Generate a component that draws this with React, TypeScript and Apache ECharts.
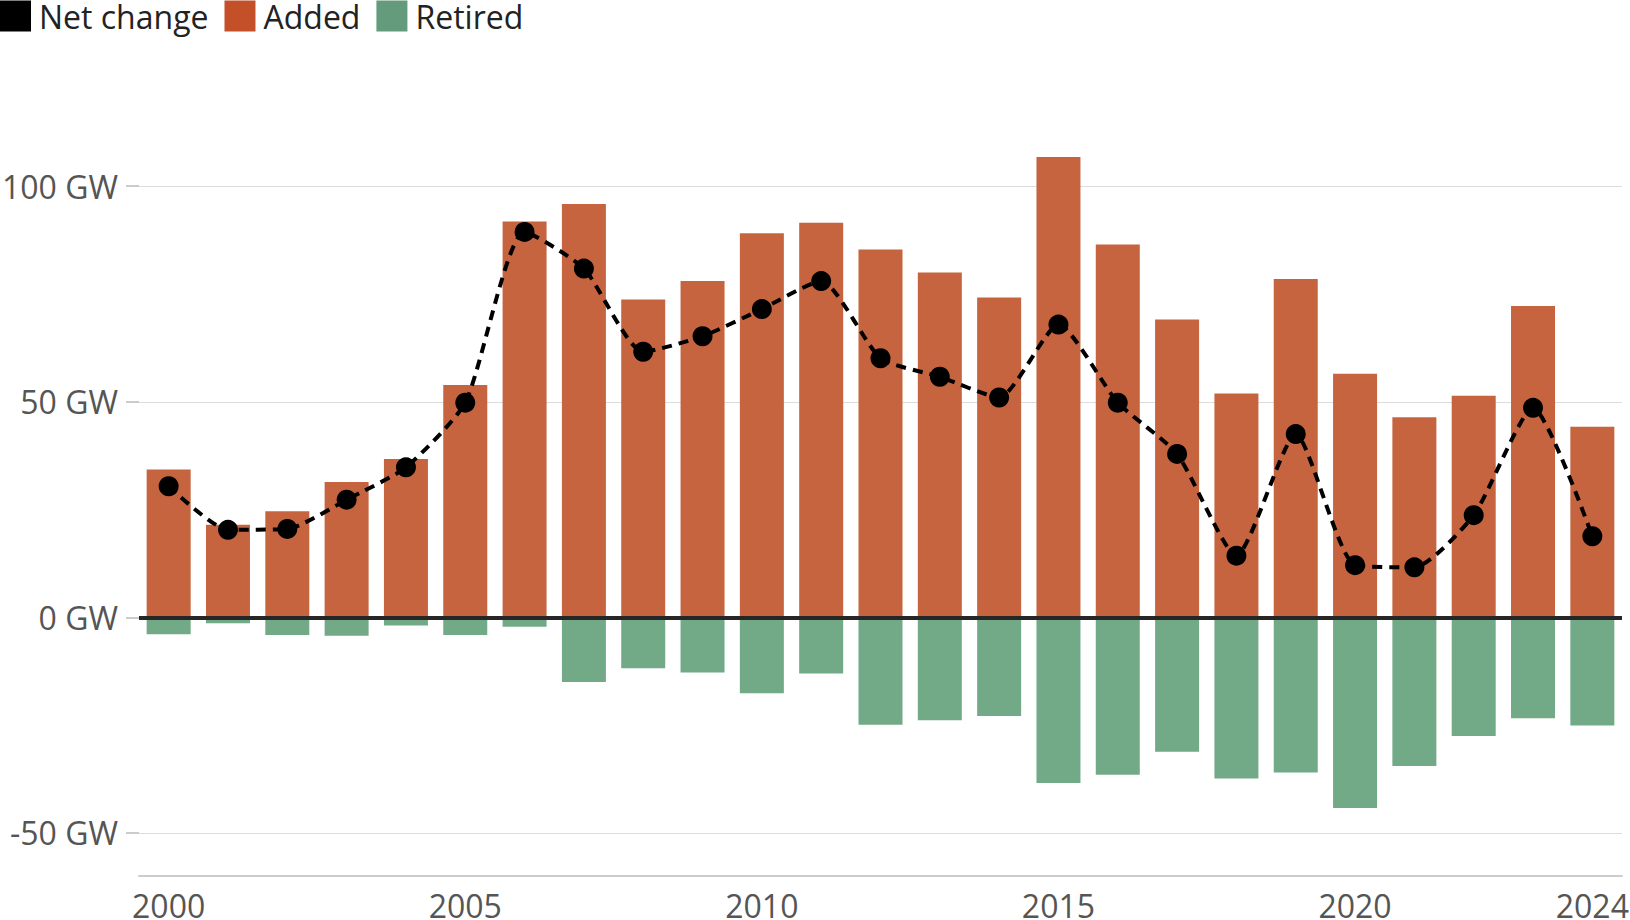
import React, { useEffect, useRef } from 'react';
import * as echarts from 'echarts';

const years = [
  '2000', '2001', '2002', '2003', '2004', '2005', '2006', '2007', '2008', '2009',
  '2010', '2011', '2012', '2013', '2014', '2015', '2016', '2017', '2018', '2019',
  '2020', '2021', '2022', '2023', '2024'
];

const added = [
  34.3, 21.5, 24.6, 31.4, 36.7, 53.9, 91.8, 95.9, 73.7, 78.0,
  89.1, 91.5, 85.3, 80.0, 74.2, 106.8, 86.5, 69.1, 51.9, 78.5,
  56.5, 46.4, 51.4, 72.2, 44.2
];

const retired = [
  -3.9, -1.4, -4.1, -4.3, -1.9, -4.1, -2.2, -15.0, -11.8, -12.8,
  -17.6, -13.0, -24.9, -23.9, -22.9, -38.4, -36.5, -31.2, -37.4, -36.0,
  -44.2, -34.5, -27.5, -23.4, -25.1
];

const netChange = [
  30.4, 20.3, 20.5, 27.3, 34.8, 49.8, 89.4, 80.9, 61.6, 65.2,
  71.5, 78.0, 60.1, 55.8, 51.0, 67.9, 49.8, 37.9, 14.3, 42.5,
  12.1, 11.6, 23.7, 48.6, 18.8
];

const yTicks = [-50, 0, 50, 100];
const labelledYears = ['2000', '2005', '2010', '2015', '2020', '2024'];

const FONT = "'Open Sans', 'Noto Sans', sans-serif";

const App: React.FC = () => {
  const chartRef = useRef<HTMLDivElement>(null);

  useEffect(() => {
    document.body.style.margin = '0';
    if (!chartRef.current) return;
    const chart = echarts.init(chartRef.current, undefined, { renderer: 'svg' });

    const showYear = (_i: number, v: string) => labelledYears.includes(v);

    chart.setOption({
      animation: false,
      textStyle: { fontFamily: FONT },
      legend: {
        left: 0,
        top: 0,
        padding: 0,
        itemWidth: 31,
        itemHeight: 31,
        itemGap: 16,
        textStyle: { fontSize: 32, color: '#222', fontFamily: FONT, padding: [0, 0, 0, 3] },
        data: [
          { name: 'Net change', icon: 'rect', itemStyle: { color: '#000' } },
          { name: 'Added', icon: 'rect', itemStyle: { color: '#c4502a' } },
          { name: 'Retired', icon: 'rect', itemStyle: { color: '#649b7c' } }
        ]
      },
      grid: {
        left: 139,
        right: 8,
        top: 100,
        bottom: 44,
        containLabel: false,
        outerBoundsMode: 'none'
      },
      xAxis: {
        type: 'category',
        data: years,
        axisLine: { onZero: false, lineStyle: { color: '#cccccc', width: 2 } },
        axisTick: {
          alignWithLabel: true,
          interval: showYear,
          length: 13,
          lineStyle: { color: '#cccccc', width: 2 }
        },
        axisLabel: {
          interval: showYear,
          fontSize: 32,
          lineHeight: 24,
          color: '#555',
          margin: 17,
          fontFamily: FONT
        },
        splitLine: { show: false }
      },
      yAxis: {
        type: 'value',
        min: -60,
        max: 120,
        axisLine: { show: false },
        axisTick: {
          show: true,
          customValues: yTicks,
          length: 13,
          lineStyle: { color: '#cccccc', width: 2 }
        },
        axisLabel: {
          customValues: yTicks,
          formatter: (v: number) => `${v} GW`,
          fontSize: 32,
          color: '#555',
          margin: 21,
          fontFamily: FONT
        },
        splitLine: { show: true, lineStyle: { color: '#dcdcdc', width: 1 } }
      },
      series: [
        {
          name: 'Added',
          type: 'bar',
          data: added,
          barWidth: 44,
          barGap: '-100%',
          itemStyle: { color: '#c6643f' },
          markLine: {
            silent: true,
            symbol: ['none', 'none'],
            label: { show: false },
            lineStyle: { color: '#262626', width: 4, type: 'solid' },
            data: [{ yAxis: 0 }]
          }
        },
        {
          name: 'Retired',
          type: 'bar',
          data: retired,
          barWidth: 44,
          barGap: '-100%',
          itemStyle: { color: '#72a987' }
        },
        {
          name: 'Net change',
          type: 'line',
          data: netChange,
          smooth: 0.2,
          symbol: 'circle',
          symbolSize: 20,
          itemStyle: { color: '#000' },
          lineStyle: { color: '#000', width: 4, type: [10, 7] },
          z: 5
        }
      ]
    });

    return () => {
      chart.dispose();
    };
  }, []);

  return <div ref={chartRef} style={{ width: '1630px', height: '920px' }} />;
};

export default App;
